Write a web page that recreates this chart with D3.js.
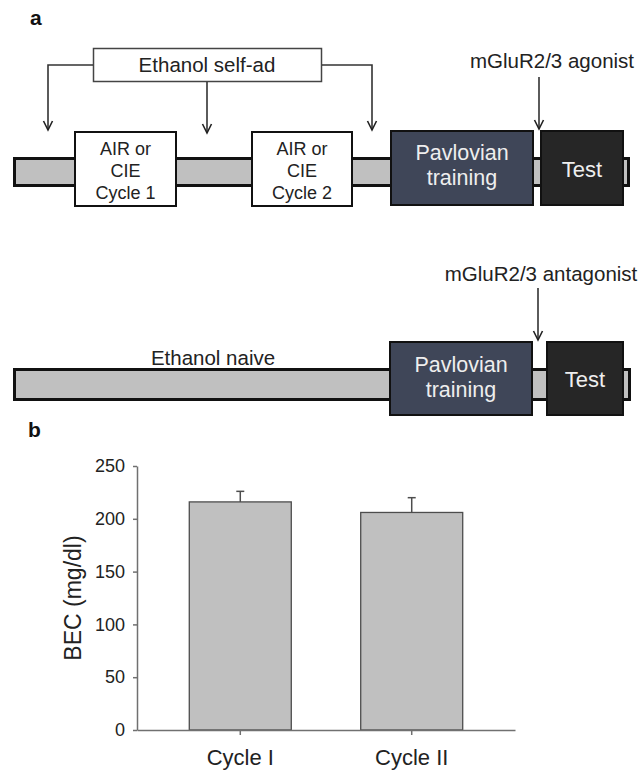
<!DOCTYPE html>
<html>
<head>
<meta charset="utf-8">
<script src="https://cdn.jsdelivr.net/npm/d3@7/dist/d3.min.js"></script>
<style>
  body { margin: 0; background: #fff; }
  svg { display: block; font-family: "Liberation Sans", Arial, sans-serif; }
</style>
</head>
<body>
<svg id="fig" width="642" height="773"></svg>
<script>
// panel b data
const categories = ["Cycle I", "Cycle II"];
const becMeans = [216, 206];
const becErrors = [10, 14];
const yTicks = [0, 50, 100, 150, 200, 250];

// panel a labels
const cycleLabels = [["AIR or", "CIE", "Cycle 1"], ["AIR or", "CIE", "Cycle 2"]];
const trainingLabel = ["Pavlovian", "training"];
const testLabel = "Test";
const selfAdLabel = "Ethanol self-ad";
const naiveLabel = "Ethanol naive";
const drugLabels = ["mGluR2/3 agonist", "mGluR2/3 antagonist"];

const svg = d3.select("#fig");

// arrow head, open chevron pointing along the path
svg.append("defs").append("marker")
    .attr("id", "head")
    .attr("viewBox", "-12 -7 14 14")
    .attr("refX", 0).attr("refY", 0)
    .attr("markerWidth", 14).attr("markerHeight", 14)
    .attr("markerUnits", "userSpaceOnUse")
    .attr("orient", "auto")
    .append("path")
    .attr("d", "M-9,-4.5 L0,0 L-9,4.5")
    .attr("fill", "none").attr("stroke", "#222").attr("stroke-width", 1.6);

function arrow(path) {
    svg.append("path")
        .attr("d", path)
        .attr("fill", "none")
        .attr("stroke", "#333")
        .attr("stroke-width", 1.6)
        .attr("marker-end", "url(#head)");
}

function box(x0, y0, x1, y1, fill, sw) {
    svg.append("rect")
        .attr("x", x0 + sw / 2).attr("y", y0 + sw / 2)
        .attr("width", x1 - x0 - sw).attr("height", y1 - y0 - sw)
        .attr("fill", fill).attr("stroke", "#111").attr("stroke-width", sw);
}

function lines(arr, cx, y0, step, size, color) {
    arr.forEach(function(t, i) {
        svg.append("text")
            .attr("x", cx).attr("y", y0 + i * step)
            .attr("text-anchor", "middle")
            .attr("font-size", size)
            .attr("fill", color)
            .text(t);
    });
}

// ---- panel a ----
svg.append("text").attr("x", 30).attr("y", 25)
    .attr("font-size", 21).attr("font-weight", "bold").attr("fill", "#111").text("a");

// top timeline
box(13, 157, 630, 187, "#c0c0c0", 3);
box(74, 131, 177, 207, "#fff", 2);
box(251, 131, 353, 207, "#fff", 2);
box(390, 130, 534, 206, "#3f4658", 2);
box(540, 130, 624, 206, "#262626", 2);
lines(cycleLabels[0], 125.5, 155, 22, 18, "#222");
lines(cycleLabels[1], 302, 155, 22, 18, "#222");
lines(trainingLabel, 462, 160, 25, 21.5, "#eee");
lines([testLabel], 582, 177, 0, 22, "#eee");

// self-admin box with arrows
svg.append("rect").attr("x", 93.5).attr("y", 48.5).attr("width", 228).attr("height", 33)
    .attr("fill", "#fff").attr("stroke", "#444").attr("stroke-width", 1.5);
lines([selfAdLabel], 207, 72, 0, 20.5, "#222");
arrow("M93,65H48V130");
arrow("M207,82V133");
arrow("M322,65H372V130");

lines([drugLabels[0]], 552, 68, 0, 20.5, "#222");
arrow("M539,77V129");

// bottom timeline
box(13, 368, 631, 401, "#c0c0c0", 3);
box(389, 341, 533, 416, "#3f4658", 2);
box(546, 341, 624, 416, "#262626", 2);
lines(trainingLabel, 461, 372, 25, 21.5, "#eee");
lines([testLabel], 585, 387, 0, 22, "#eee");
lines([naiveLabel], 213, 365, 0, 20.5, "#222");
lines([drugLabels[1]], 541, 281, 0, 20.5, "#222");
arrow("M538,288V340");

// ---- panel b ----
svg.append("text").attr("x", 28).attr("y", 437)
    .attr("font-size", 21).attr("font-weight", "bold").attr("fill", "#111").text("b");

const x = d3.scaleBand()
    .domain(categories)
    .range([137, 515])
    .paddingInner(0.405)
    .paddingOuter(0.305);

const y = d3.scaleLinear()
    .domain([0, 250])
    .range([730, 466]);

const chart = svg.append("g");

chart.selectAll("rect.bar")
    .data(categories)
    .enter().append("rect")
    .attr("class", "bar")
    .attr("x", d => x(d))
    .attr("y", (d, i) => y(becMeans[i]))
    .attr("width", x.bandwidth())
    .attr("height", (d, i) => y(0) - y(becMeans[i]))
    .attr("fill", "#c0c0c0")
    .attr("stroke", "#4d4d4d")
    .attr("stroke-width", 1.3);

// error bars (upper only)
const err = chart.selectAll("g.err")
    .data(categories)
    .enter().append("g")
    .attr("class", "err")
    .attr("stroke", "#4d4d4d")
    .attr("stroke-width", 1.5);
err.append("line")
    .attr("x1", d => x(d) + x.bandwidth() / 2)
    .attr("x2", d => x(d) + x.bandwidth() / 2)
    .attr("y1", (d, i) => y(becMeans[i]))
    .attr("y2", (d, i) => y(becMeans[i] + becErrors[i]));
err.append("line")
    .attr("x1", d => x(d) + x.bandwidth() / 2 - 4)
    .attr("x2", d => x(d) + x.bandwidth() / 2 + 4)
    .attr("y1", (d, i) => y(becMeans[i] + becErrors[i]))
    .attr("y2", (d, i) => y(becMeans[i] + becErrors[i]));

const yAxis = chart.append("g")
    .attr("transform", "translate(137,0)")
    .call(d3.axisLeft(y).tickValues(yTicks).tickSize(4).tickSizeOuter(0).tickPadding(8));

const xAxis = chart.append("g")
    .attr("transform", "translate(0,730)")
    .call(d3.axisBottom(x).tickSize(5).tickSizeOuter(0).tickPadding(14));

[yAxis, xAxis].forEach(function(g) {
    g.select(".domain").attr("stroke", "#707070").attr("stroke-width", 1.5);
    g.selectAll(".tick line").attr("stroke", "#707070").attr("stroke-width", 1.5);
    g.selectAll(".tick text").attr("fill", "#222").attr("font-family", "Liberation Sans, Arial, sans-serif");
});
yAxis.selectAll(".tick text").attr("font-size", 18);
xAxis.selectAll(".tick text").attr("font-size", 22);

svg.append("text")
    .attr("transform", "translate(81,598) rotate(-90)")
    .attr("text-anchor", "middle")
    .attr("font-size", 23)
    .attr("fill", "#222")
    .text("BEC (mg/dl)");
</script>
</body>
</html>
